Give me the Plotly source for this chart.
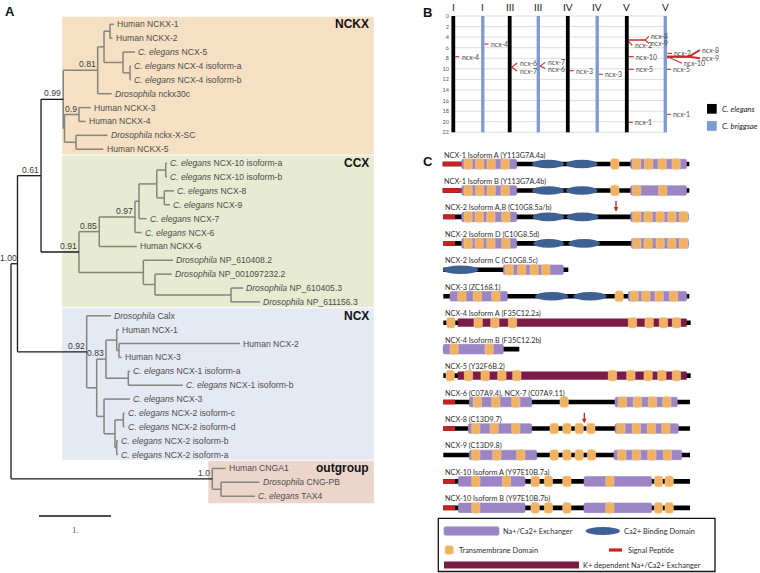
import plotly.graph_objects as go

# ======================= DATA =======================
# ---- Panel A: phylogenetic tree ----
leaf_species = ["Human", "Human", "C. elegans", "C. elegans", "C. elegans", "Drosophila",
                "Human", "Human", "Drosophila", "Human",
                "C. elegans", "C. elegans", "C. elegans", "C. elegans", "C. elegans", "C. elegans",
                "Human", "Drosophila", "Drosophila", "Drosophila", "Drosophila",
                "Drosophila", "Human", "Human", "Human", "C. elegans", "C. elegans", "C. elegans",
                "C. elegans", "C. elegans", "C. elegans", "C. elegans",
                "Human", "Drosophila", "C. elegans"]
leaf_gene = ["NCKX-1", "NCKX-2", "NCX-5", "NCX-4 isoform-a", "NCX-4 isoform-b", "nckx30c",
             "NCKX-3", "NCKX-4", "nckx-X-SC", "NCKX-5",
             "NCX-10 isoform-a", "NCX-10 isoform-b", "NCX-8", "NCX-9", "NCX-7", "NCX-6",
             "NCKX-6", "NP_610408.2", "NP_001097232.2", "NP_610405.3", "NP_611156.3",
             "Calx", "NCX-1", "NCX-2", "NCX-3", "NCX-1 isoform-a", "NCX-1 isoform-b", "NCX-3",
             "NCX-2 isoform-c", "NCX-2 isoform-d", "NCX-2 isoform-b", "NCX-2 isoform-a",
             "CNGA1", "CNG-PB", "TAX4"]
leaf_parent = ["A", "A", "C", "D", "D", "E", "H", "H", "I", "I",
               "L1", "L1", "L2", "L2", "N", "M", "O", "P", "Q", "R", "R",
               "Z", "S", "T", "T", "V", "V", "Y", "X1", "X1", "X2", "X2",
               "CC", "BB", "BB"]
leaf_depth = [1.431, 1.410, 1.722, 1.667, 1.667, 1.399, 1.107, 1.037, 1.338, 1.282,
              2.167, 2.167, 2.264, 2.208, 1.885, 1.815, 1.746, 2.250, 2.232, 3.226, 3.458,
              1.389, 1.500, 3.181, 1.537, 1.653, 2.385, 1.653, 1.576, 1.576, 1.486, 1.486,
              2.982, 3.449, 3.389]
node_name = ["root", "AA", "J", "F", "E", "B", "A", "C", "D", "G", "H", "I",
             "K", "O", "M", "N", "L", "L1", "L2", "P", "Q", "R",
             "Z", "W", "U", "S", "T", "V", "Y", "X", "X1", "X2", "CC", "BB"]
node_parent = [None, "root", "AA", "J", "F", "E", "B", "B", "C", "F", "G", "G",
               "J", "K", "O", "M", "N", "L", "L", "K", "P", "Q",
               "AA", "Z", "W", "U", "S", "U", "W", "Y", "X", "X", "root", "CC"]
node_depth = [0.0, 0.090, 0.417, 0.726, 1.204, 1.292, 1.375, 1.556, 1.653, 0.743, 0.944, 0.903,
              0.944, 1.226, 1.722, 1.778, 2.024, 2.149, 2.129, 1.838, 2.000, 3.056,
              1.051, 1.190, 1.319, 1.468, 1.500, 1.629, 1.292, 1.444, 1.560, 1.468, 2.796, 2.917]
support_node = ["AA", "J", "F", "E", "H", "K", "O", "M", "Z", "U", "CC"]
support_value = ["1.00", "0.61", "0.99", "0.81", "0.9", "0.91", "0.85", "0.97", "0.92", "0.83", "1.0"]
clade_name = ["NCKX", "CCX", "NCX", "outgroup"]
clade_first_leaf = [0, 10, 21, 32]
clade_last_leaf = [9, 20, 31, 34]
scale_bar_length = 1.0
scale_bar_label = "1."

# ---- Panel B: chromosome map ----
chrom_label = ["I", "I", "III", "III", "IV", "IV", "V", "V"]
chrom_species = [0, 1, 0, 1, 0, 1, 0, 1]          # 0 = C. elegans, 1 = C. briggsae
chrom_len_mb = [22, 22, 22, 22, 22, 22, 22, 22]
mb_ticks = [0, 2, 4, 6, 8, 10, 12, 14, 16, 18, 20, 22]
species_names = ["C. elegans", "C. briggsae"]
gene_chrom = [0, 1, 2, 2, 3, 3, 4, 5, 6, 6, 6, 6, 6, 6, 7, 7, 7, 7, 7, 7]
gene_name = ["ncx-4", "ncx-4", "ncx-6", "ncx-7", "ncx-7", "ncx-6", "ncx-3", "ncx-3",
             "ncx-8", "ncx-9", "ncx-2", "ncx-10", "ncx-5", "ncx-1",
             "ncx-2", "ncx-10", "ncx-8", "ncx-9", "ncx-5", "ncx-1"]
gene_mb = [7.69, 5.30, 9.71, 9.71, 9.48, 9.48, 10.34, 11.03,
           4.54, 4.54, 4.80, 7.69, 10.09, 20.10,
           7.06, 7.90, 7.69, 7.69, 10.09, 18.60]
gene_label_mb = [7.69, 5.30, 8.90, 10.40, 8.78, 9.95, 10.34, 11.03,
                 3.85, 5.20, 5.55, 7.69, 10.09, 20.10,
                 7.06, 8.95, 6.43, 8.00, 10.09, 18.60]

# ---- Panel C: protein domain architecture ----
prot_label = ["NCX-1 Isoform A (Y113G7A.4a)", "NCX-1 Isoform B (Y113G7A.4b)",
              "NCX-2 Isoform A,B (C10G8.5a/b)", "NCX-2 Isoform D (C10G8.5d)",
              "NCX-2 Isoform C (C10G8.5c)", "NCX-3 (ZC168.1)",
              "NCX-4 Isoform A (F35C12.2a)", "NCX-4 Isoform B (F35C12.2b)",
              "NCX-5 (Y32F6B.2)", "NCX-6 (C07A9.4), NCX-7 (C07A9.11)",
              "NCX-8 (C13D9.7)", "NCX-9 (C13D9.8)",
              "NCX-10 Isoform A (Y97E10B.7a)", "NCX-10 Isoform B (Y97E10B.7b)"]
prot_start = [22.7, 22.7, 23.3, 23.3, 23.3, 23.3, 23.3, 23.3, 23.3, 23.3, 23.3, 23.3, 23.3, 23.3]
prot_end = [269.3, 269.3, 268.3, 268.3, 148.3, 269.3, 270.7, 99.3, 270.7, 270, 270, 270, 270, 270]
signal_peptide = [(0, 22.7, 41.0), (1, 22.7, 41.0), (2, 23.3, 35.0), (3, 23.3, 35.0),
                  (9, 23.3, 35.0), (10, 23.3, 35.0), (12, 23.3, 35.0), (13, 23.3, 35.0)]
exchanger = [(0, 41.7, 96.7), (0, 210.7, 266.5), (1, 41.7, 96.7), (1, 210.7, 266.5),
             (2, 41.7, 96.7), (2, 210.7, 268.3), (3, 41.7, 96.7), (3, 211.3, 268.3),
             (4, 83.3, 143.3), (5, 30.0, 87.3), (5, 208.3, 266.7), (7, 23.3, 83.3),
             (9, 49.3, 111.7), (9, 195.0, 257.3), (10, 48.3, 111.7), (10, 195.0, 258.3),
             (11, 49.3, 116.7), (11, 194.0, 261.7), (12, 38.3, 105.0), (12, 164.0, 231.7),
             (13, 38.3, 105.0), (13, 164.0, 231.7)]
k_dependent = [(6, 37.7, 266.7), (8, 37.7, 266.7)]
ca_binding = [(0, 112.0, 144.0), (0, 146.0, 177.5), (1, 112.0, 144.0), (1, 146.0, 177.5),
              (2, 112.7, 144.0), (2, 146.7, 178.3), (3, 113.3, 144.0), (3, 148.3, 180.0),
              (4, 23.3, 58.3), (5, 115.0, 148.3), (5, 153.3, 186.7)]
tm_start = [
    [44, 55.5, 67, 81, 190.7, 212.5, 224.5, 238, 252],
    [44, 55.5, 67, 81, 190.7, 212.5, 238.5],
    [44, 55, 66.7, 81.7, 212.7, 224, 236, 247.7, 259.3],
    [44, 55, 66.7, 81.7, 212.7, 224, 236, 247.7, 259.3],
    [85, 97.5, 110, 121.5],
    [37.7, 53.3, 71.7, 195, 210, 221.7, 235, 249.3],
    [26.7, 54, 70.7, 88.3, 208.3, 225, 239.3, 252.3],
    [30, 65],
    [26, 44.3, 61, 77.7, 92.7, 188.3, 206.7, 224, 237.7, 252.3],
    [53.3, 71.7, 91.7, 140, 198.3, 213.3, 228.3, 242.7],
    [51.7, 70, 91.7, 130, 142.7, 155, 166.7, 196.7, 212.3, 227.3, 241.7],
    [51.7, 72.7, 96.7, 130, 142.7, 155, 167.3, 197.7, 212.3, 227.7, 243.3],
    [51.7, 82.3, 111, 124.3, 142.7, 185.7, 234.3, 245],
    [51.7, 111, 124.3, 142.7, 185.7, 234.3, 245],
]
mutation_arrow = [(2, 196.0), (10, 164.3)]
legend_items = ["Na+/Ca2+ Exchanger", "Ca2+ Binding Domain", "Transmembrane Domain",
                "Signal Peptide", "K+ dependent Na+/Ca2+ Exchanger"]

# ======================= LAYOUT / STYLE =======================
W, H = 760, 573
TREE_FONT = "Liberation Sans, Arial, sans-serif"
C_FONT = "Lato, Open Sans, sans-serif"
CLADE_FILL = ["#f6e0c3", "#e6ebd1", "#e5e9f3", "#ecd6cc"]
BACKBONE = {"root", "AA", "J"}

# panel A axis geometry (px)
A_ROOT_PX, A_UNIT_PX, A_LEAF0_PX, A_LEAF_DY = 11.0, 72.0, 24.3, 13.88
A_RIGHT_PX = 380.0
ax_a_x = [(0 - A_ROOT_PX) / A_UNIT_PX, (A_RIGHT_PX - A_ROOT_PX) / A_UNIT_PX]
ax_a_y = [(H - A_LEAF0_PX) / A_LEAF_DY, (0 - A_LEAF0_PX) / A_LEAF_DY]
box_left = [0.71, 0.71, 0.71, 2.74]
box_right = 5.04

# panel B
B_TOP_PX, B_BOT_PX, B_MB0_PX, B_PX_PER_MB = 0.0, 140.0, 16.0, 5.286
chrom_cx = [33.3, 62.8, 89.7, 118.3, 147.8, 177.2, 206.8, 245.3]
chrom_w = [3.8, 3.3]
chrom_col = ["#000000", "#7b9bd1"]
gene_trunk = [0, 0, 0, 0, 0, 0, 0, 0, 16.7, 16.7, 0, 0, 0, 0, 0, 3, 22, 22, 0, 0]
gene_branch = [4, 4, 5.5, 5.5, 5.3, 5.3, 4, 4, 3.3, 3.3, 3.5, 5, 5, 4, 5, 12, 11, 11, 4, 4]

# panel C
C_TOP_PX, C_ROW0_PX, C_ROW_DY = 140.0, 164.0, 26.45
COL_EXCH, COL_TM, COL_TM_EDGE = "#9b85c4", "#f0b262", "#f6cd8f"
COL_CA, COL_K, COL_SP = "#3e6092", "#7c1a48", "#c9211e"
TM_W = 8.3

fig = go.Figure()
shapes, annotations = [], []

# ---------------- Panel A ----------------
for k in range(4):
    y0 = clade_first_leaf[k] - 0.55
    y1 = clade_last_leaf[k] + (0.38 if k < 3 else 0.5)
    shapes.append(dict(type="rect", xref="x", yref="y", x0=box_left[k], x1=box_right,
                       y0=y0, y1=y1, fillcolor=CLADE_FILL[k], line_width=0, layer="below"))
    annotations.append(dict(x=box_right, y=clade_first_leaf[k], xref="x", yref="y",
                            text="<b>%s</b>" % clade_name[k], showarrow=False,
                            xanchor="right", yanchor="middle", xshift=-3,
                            font=dict(family=TREE_FONT, size=12, color="#111")))

depth = dict(zip(node_name, node_depth))
children = {n: [] for n in node_name}
for i, p in enumerate(leaf_parent):
    children[p].append(("leaf", i))
for n, p in zip(node_name, node_parent):
    if p is not None:
        children[p].append(("node", n))


def ypos(kind, key):
    if kind == "leaf":
        return float(key)
    ys = [ypos(*c) for c in children[key]]
    return (min(ys) + max(ys)) / 2.0


def dpos(kind, key):
    return leaf_depth[key] if kind == "leaf" else depth[key]


seg = {True: ([], []), False: ([], [])}
for n in node_name:
    bb = n in BACKBONE
    xs, ys = seg[bb]
    cys = [ypos(*c) for c in children[n]]
    xs += [depth[n], depth[n], None]
    ys += [min(cys), max(cys), None]
    for c, cy_ in zip(children[n], cys):
        xs += [depth[n], dpos(*c), None]
        ys += [cy_, cy_, None]

for bb, col, wd in [(False, "#85857d", 1.5), (True, "#1a1a1a", 1.3)]:
    fig.add_trace(go.Scatter(x=seg[bb][0], y=seg[bb][1], mode="lines", xaxis="x", yaxis="y",
                             line=dict(color=col, width=wd), hoverinfo="skip", showlegend=False))

for i in range(len(leaf_gene)):
    sp = leaf_species[i]
    txt = ("%s %s" % (sp, leaf_gene[i])) if sp == "Human" else ("<i>%s</i> %s" % (sp, leaf_gene[i]))
    annotations.append(dict(x=leaf_depth[i], y=i, xref="x", yref="y", text=txt, showarrow=False,
                            xanchor="left", yanchor="middle", xshift=1.2,
                            font=dict(family=TREE_FONT, size=8.6, color="#4d4d4d")))

for n, v in zip(support_node, support_value):
    annotations.append(dict(x=depth[n], y=ypos("node", n), xref="x", yref="y", text=v,
                            showarrow=False, xanchor="right", yanchor="bottom",
                            xshift=1.5 if n == "AA" else 0, yshift=-1,
                            font=dict(family=TREE_FONT, size=8.6, color="#3a3a3a")))

sb_x0 = (39 - A_ROOT_PX) / A_UNIT_PX
sb_y = (516 - A_LEAF0_PX) / A_LEAF_DY
fig.add_trace(go.Scatter(x=[sb_x0, sb_x0 + scale_bar_length], y=[sb_y, sb_y], mode="lines",
                         xaxis="x", yaxis="y", line=dict(color="#111", width=1.3),
                         hoverinfo="skip", showlegend=False))
annotations.append(dict(x=sb_x0 + scale_bar_length / 2, y=sb_y + 1.0, xref="x", yref="y",
                        text=scale_bar_label, showarrow=False, xanchor="center", yanchor="middle",
                        font=dict(family="Liberation Serif, serif", size=9, color="#555")))

# ---------------- Panel B ----------------
for t in mb_ticks:
    shapes.append(dict(type="line", xref="x2", yref="y2", x0=chrom_cx[0], x1=chrom_cx[-1] + 2.5,
                       y0=t, y1=t, line=dict(color="#d6d6d6", width=0.8), layer="below"))
for c in range(len(chrom_label)):
    s = chrom_species[c]
    shapes.append(dict(type="rect", xref="x2", yref="y2", x0=chrom_cx[c] - chrom_w[s] / 2,
                       x1=chrom_cx[c] + chrom_w[s] / 2, y0=0, y1=chrom_len_mb[c],
                       fillcolor=chrom_col[s], line_width=0))
    annotations.append(dict(x=chrom_cx[c], y=-1.75, xref="x2", yref="y2", text=chrom_label[c],
                            showarrow=False, xanchor="center", yanchor="middle",
                            font=dict(family=C_FONT, size=10, color="#222")))
for g in range(len(gene_name)):
    c = gene_chrom[g]
    edge = chrom_cx[c] + chrom_w[chrom_species[c]] / 2
    xs = [edge, edge + gene_trunk[g], edge + gene_trunk[g] + gene_branch[g]]
    ys = [gene_mb[g], gene_mb[g], gene_label_mb[g]]
    wd = 2.0 if (gene_trunk[g] > 10 and chrom_species[c] == 1) else 1.1
    fig.add_trace(go.Scatter(x=xs, y=ys, mode="lines", xaxis="x2", yaxis="y2",
                             line=dict(color="#cc2a2a", width=wd), hoverinfo="skip", showlegend=False))
    annotations.append(dict(x=xs[-1], y=gene_label_mb[g], xref="x2", yref="y2", text=gene_name[g],
                            showarrow=False, xanchor="left", yanchor="middle", xshift=0.5,
                            font=dict(family=C_FONT, size=6.9, color="#4a4a4a")))
leg_mb = [17.56, 20.8]
for s in range(2):
    shapes.append(dict(type="rect", xref="x2", yref="y2", x0=287, x1=296.7,
                       y0=leg_mb[s] - 0.92, y1=leg_mb[s] + 0.92, fillcolor=chrom_col[s], line_width=0))
    annotations.append(dict(x=299.5, y=leg_mb[s], xref="x2", yref="y2",
                            text="<i>%s</i>" % species_names[s], showarrow=False,
                            xanchor="left", yanchor="middle",
                            font=dict(family=C_FONT, size=7.8, color="#222")))

# ---------------- Panel C ----------------
def rrect(x0, x1, yc, hpx, rpx, fill=COL_TM, edge=COL_TM_EDGE):
    h = hpx / 2.0 / C_ROW_DY
    ry = rpx / C_ROW_DY
    y0, y1 = yc - h, yc + h
    r = rpx
    p = ("M %f,%f L %f,%f Q %f,%f %f,%f L %f,%f Q %f,%f %f,%f L %f,%f Q %f,%f %f,%f L %f,%f Q %f,%f %f,%f Z"
         % (x0 + r, y0, x1 - r, y0, x1, y0, x1, y0 + ry, x1, y1 - ry, x1, y1, x1 - r, y1,
            x0 + r, y1, x0, y1, x0, y1 - ry, x0, y0 + ry, x0, y0, x0 + r, y0))
    return dict(type="path", xref="x3", yref="y3", path=p, fillcolor=fill,
                line=dict(color=edge, width=0.6))


def hbar(row, x0, x1, hpx, col):
    h = hpx / 2.0 / C_ROW_DY
    return dict(type="rect", xref="x3", yref="y3", x0=x0, x1=x1, y0=row - h, y1=row + h,
                fillcolor=col, line_width=0)


for r in range(len(prot_label)):
    annotations.append(dict(x=prot_start[r] - 0.3, y=r - 0.34, xref="x3", yref="y3",
                            text=prot_label[r], showarrow=False, xanchor="left", yanchor="middle",
                            font=dict(family=C_FONT, size=7.3, color="#2e2e2e")))
    shapes.append(hbar(r, prot_start[r], prot_end[r], 4.6, "#000000"))
for (r, a, b) in signal_peptide:
    shapes.append(hbar(r, a, b, 4.6, COL_SP))
for (r, a, b) in k_dependent:
    shapes.append(hbar(r, a, b, 8.2, COL_K))
for (r, a, b) in exchanger:
    shapes.append(rrect(a, b, r, 9.6, 1.5, fill=COL_EXCH, edge=COL_EXCH))
for (r, a, b) in ca_binding:
    h = 8.6 / 2.0 / C_ROW_DY
    shapes.append(dict(type="circle", xref="x3", yref="y3", x0=a, x1=b, y0=r - h, y1=r + h,
                       fillcolor=COL_CA, line_width=0))
for r, starts in enumerate(tm_start):
    for a in starts:
        shapes.append(rrect(a, a + TM_W, r, 10.6, 2.2))
for (r, xpos) in mutation_arrow:
    annotations.append(dict(x=xpos, y=r - 0.2, xref="x3", yref="y3", text="", showarrow=True,
                            ax=0, ay=-12, arrowcolor=COL_SP, arrowwidth=1.3, arrowhead=2,
                            arrowsize=0.7))


def cy(px):
    return (px - C_ROW0_PX) / C_ROW_DY


# legend box for panel C
shapes.append(dict(type="rect", xref="x3", yref="y3", x0=18.3, x1=295, y0=cy(518.3), y1=cy(571.5),
                   fillcolor="rgba(0,0,0,0)", line=dict(color="#111", width=1.3)))
shapes.append(rrect(24, 79, cy(531), 8.4, 1.5, fill=COL_EXCH, edge=COL_EXCH))
h = 8.0 / 2 / C_ROW_DY
shapes.append(dict(type="circle", xref="x3", yref="y3", x0=165.7, x1=200, y0=cy(531) - h,
                   y1=cy(531) + h, fillcolor=COL_CA, line_width=0))
shapes.append(rrect(25, 33.3, cy(550), 8.5, 2))
shapes.append(hbar(cy(550), 189, 202, 3.2, COL_SP))
shapes.append(hbar(cy(565), 24, 159, 6.8, COL_K))
leg_pos = [(80.7, 531), (201.5, 531), (36.5, 550), (205.5, 550), (160.5, 565)]
for txt, (lx, ly) in zip(legend_items, leg_pos):
    annotations.append(dict(x=lx, y=cy(ly), xref="x3", yref="y3", text=txt, showarrow=False,
                            xanchor="left", yanchor="middle",
                            font=dict(family=C_FONT, size=7.4, color="#2e2e2e")))

# panel letters
for letter, px, py in [("A", 3, 2), ("B", 421, 3), ("C", 421, 152)]:
    annotations.append(dict(x=px / W, y=1 - py / H, xref="paper", yref="paper",
                            text="<b>%s</b>" % letter, showarrow=False, xanchor="left",
                            yanchor="top", font=dict(family=TREE_FONT, size=13, color="#111")))

hidden = dict(visible=False, fixedrange=True)
fig.update_layout(
    width=W, height=H, margin=dict(l=0, r=0, t=0, b=0),
    paper_bgcolor="white", plot_bgcolor="rgba(0,0,0,0)", showlegend=False,
    xaxis=dict(hidden, domain=[0, A_RIGHT_PX / W], range=ax_a_x),
    yaxis=dict(hidden, domain=[0, 1], range=ax_a_y),
    xaxis2=dict(hidden, domain=[420 / W, 1], range=[0, 340], anchor="y2"),
    yaxis2=dict(domain=[1 - B_BOT_PX / H, 1 - B_TOP_PX / H],
                range=[(B_BOT_PX - B_MB0_PX) / B_PX_PER_MB, (B_TOP_PX - B_MB0_PX) / B_PX_PER_MB],
                anchor="free", position=449 / W, tickvals=mb_ticks, ticks="",
                showgrid=False, zeroline=False, showline=False, fixedrange=True,
                tickfont=dict(family=C_FONT, size=5.5, color="#555")),
    xaxis3=dict(hidden, domain=[420 / W, 1], range=[0, 340], anchor="y3"),
    yaxis3=dict(hidden, domain=[0, 1 - C_TOP_PX / H],
                range=[(H - C_ROW0_PX) / C_ROW_DY, (C_TOP_PX - C_ROW0_PX) / C_ROW_DY]),
    shapes=shapes, annotations=annotations,
)
fig.write_html("out.html", config={"displayModeBar": False},
               post_script="document.body.style.margin='0';document.body.style.overflow='hidden';")
